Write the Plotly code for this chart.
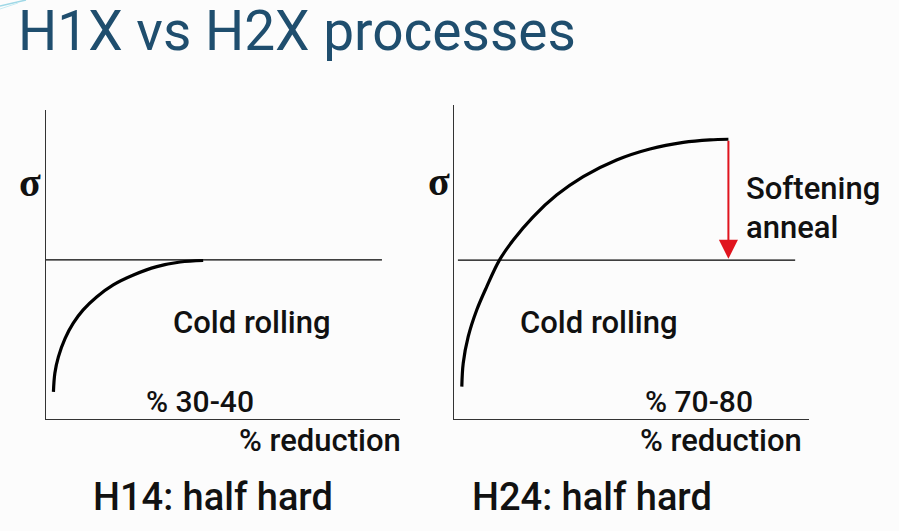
import plotly.graph_objects as go

# ---- data ----
# H1X (left panel): cold-rolling hardening curve, % reduction vs stress (arbitrary 0-100 units)
h1x_reduction = [2.1, 2.5, 3.5, 5.4, 7.7, 10.5, 14.3, 19.0, 24.7, 31.3, 37.9, 44.4]
h1x_stress = [8.8, 14.8, 20.1, 26.1, 31.0, 35.3, 39.5, 43.4, 46.6, 49.3, 50.8, 51.3]
h1x_level_x = [0.0, 94.9]
h1x_level_y = [51.5, 51.5]

# H2X (right panel): cold-rolling curve, then softening anneal down to the level
h2x_reduction = [2.2, 2.6, 4.0, 6.4, 9.2, 12.8, 16.7, 22.3, 28.9, 36.4, 45.8, 55.2, 64.6, 72.1, 77.3]
h2x_stress = [10.3, 17.8, 26.2, 34.7, 42.1, 50.6, 57.0, 64.4, 71.3, 77.2, 82.5, 86.0, 88.1, 88.9, 89.1]
h2x_level_x = [1.1, 96.1]
h2x_level_y = [50.6, 50.6]
anneal_x = 77.3
anneal_from = 89.1
anneal_to = 51.0

W, H = 899, 531
FONT = "Roboto, 'Open Sans', sans-serif"
TEXT = "#111111"
TITLE_C = "#1F4E6E"
RED = "#E0141E"


def px(x):
    return x / W


def py(y):
    return 1 - y / H


fig = go.Figure()

fig.add_trace(go.Scatter(x=h1x_level_x, y=h1x_level_y, mode="lines",
                         line=dict(color="#000000", width=1.2), xaxis="x", yaxis="y",
                         hoverinfo="skip"))
fig.add_trace(go.Scatter(x=h1x_reduction, y=h1x_stress, mode="lines",
                         line=dict(color="#000000", width=3.2, shape="spline"),
                         xaxis="x", yaxis="y"))
fig.add_trace(go.Scatter(x=h2x_level_x, y=h2x_level_y, mode="lines",
                         line=dict(color="#000000", width=1.2), xaxis="x2", yaxis="y2",
                         hoverinfo="skip"))
fig.add_trace(go.Scatter(x=h2x_reduction, y=h2x_stress, mode="lines",
                         line=dict(color="#000000", width=3.2, shape="spline"),
                         xaxis="x2", yaxis="y2"))

axis_common = dict(range=[0, 100], showgrid=False, zeroline=False, showticklabels=False,
                   ticks="", showline=True, linecolor="#333333", linewidth=1.3, fixedrange=True)

fig.update_layout(
    width=W, height=H, autosize=False,
    margin=dict(l=0, r=0, t=0, b=0),
    paper_bgcolor="#fcfcfc", plot_bgcolor="rgba(0,0,0,0)",
    showlegend=False,
    xaxis=dict(domain=[px(46), px(400)], anchor="y", **axis_common),
    yaxis=dict(domain=[py(419), py(110)], anchor="x", **axis_common),
    xaxis2=dict(domain=[px(454), px(809)], anchor="y2", **axis_common),
    yaxis2=dict(domain=[py(419), py(105)], anchor="x2", **axis_common),
)

ann = []


def label(text, x, y, size, xanchor="center", color=TEXT, family=FONT, weight=500):
    ann.append(dict(text=text, x=px(x), y=py(y), xref="paper", yref="paper",
                    xanchor=xanchor, yanchor="middle", showarrow=False,
                    font=dict(family=family, size=size, color=color, weight=weight)))


label("H1X vs H2X processes", 16, 31, 55, xanchor="left", color=TITLE_C, weight=400)
label("σ", 30, 182, 40, family="'Liberation Serif', serif", weight=700)
label("σ", 438.5, 181, 40, family="'Liberation Serif', serif", weight=700)
label("Cold rolling", 251.5, 322, 31)
label("Cold rolling", 598.5, 322, 31)
label("% 30-40", 200, 401, 30)
label("% 70-80", 699, 401, 30)
label("% reduction", 319.5, 440, 31)
label("% reduction", 720.5, 440, 31)
label("Softening", 744, 189, 31, xanchor="left")
label("anneal", 744, 227, 31, xanchor="left")
label("H14: half hard", 212.5, 497, 38)
label("H24: half hard", 591.5, 497, 38)

# softening anneal arrow
ann.append(dict(x=anneal_x, y=anneal_to, ax=anneal_x, ay=anneal_from,
                xref="x2", yref="y2", axref="x2", ayref="y2", text="",
                showarrow=True, arrowhead=2, arrowsize=1.9, arrowwidth=2,
                arrowcolor=RED, standoff=0, startstandoff=0))

fig.update_layout(annotations=ann)

# small decorative stroke in the top-left corner of the slide
fig.add_shape(type="line", xref="paper", yref="paper", x0=px(0), y0=py(6), x1=px(26), y1=py(0),
              line=dict(color="#9fd8e6", width=1.5))
fig.add_shape(type="line", xref="paper", yref="paper", x0=px(0), y0=py(9), x1=px(18), y1=py(3),
              line=dict(color="#c8ecf3", width=1))

fig.write_html("out.html", config={"displayModeBar": False},
               post_script="document.body.style.margin='0';document.body.style.padding='0';"
                           "document.documentElement.style.overflow='hidden';")
